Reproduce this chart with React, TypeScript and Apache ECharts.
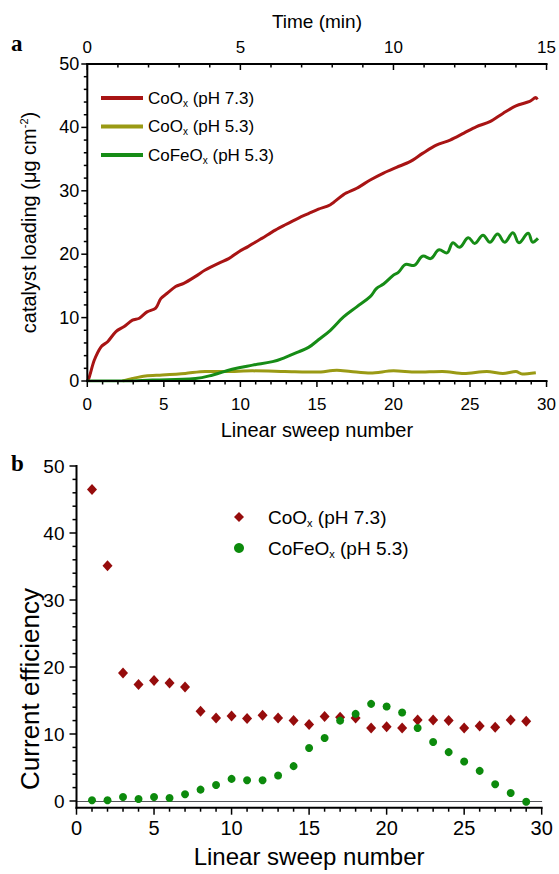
import React, { useEffect, useRef } from "react";
import * as echarts from "echarts";

// ---- Panel a: catalyst loading vs linear sweep number ----
const coPh73X = [0, 0.1, 0.46, 0.9, 1.33, 1.87, 2.41, 2.95, 3.4, 3.9, 4.47, 4.8, 5.2, 5.77, 6.3, 7.07, 7.7, 8.6, 9.24, 9.9, 10.5, 11.4, 12.28, 12.9, 13.8, 14.45, 15.1, 15.88, 16.74, 17.6, 18.48, 19.35, 20.2, 21.08, 21.9, 22.8, 23.7, 24.6, 25.4, 26.3, 27.15, 28.0, 28.9, 29.3, 29.4];
const coPh73Y = [0, 0.4, 3.3, 5.4, 6.2, 7.8, 8.6, 9.6, 9.9, 10.9, 11.5, 13.0, 13.8, 14.9, 15.4, 16.5, 17.5, 18.6, 19.3, 20.4, 21.2, 22.5, 23.8, 24.6, 25.7, 26.4, 27.1, 27.8, 29.4, 30.4, 31.7, 32.8, 33.7, 34.6, 35.9, 37.2, 38.0, 39.1, 40.1, 40.9, 42.2, 43.4, 44.1, 44.7, 44.4];

const coPh53X = [2.3, 2.95, 3.8, 4.9, 6.4, 7.7, 9.0, 10.8, 12.9, 15.0, 16.3, 17.2, 18.5, 20.0, 21.5, 23.2, 24.6, 26.1, 27.15, 28.0, 28.4, 29.3];
const coPh53Y = [0, 0.4, 0.8, 0.95, 1.2, 1.5, 1.5, 1.6, 1.5, 1.4, 1.7, 1.5, 1.25, 1.6, 1.4, 1.5, 1.2, 1.5, 1.2, 1.5, 1.1, 1.3];

const coFePh53X = [0, 2.3, 4.25, 7.07, 8.2, 9.46, 10.8, 12.1, 12.9, 13.8, 14.45, 15.1, 15.88, 16.74, 17.6, 18.48, 18.9, 19.35, 20.0, 20.3, 20.86, 21.3, 21.96, 22.4, 23.0, 23.47, 23.9, 24.3, 24.9, 25.3, 25.85, 26.3, 26.8, 27.26, 27.8, 28.2, 28.8, 29.1, 29.44];
const coFePh53Y = [0, 0, 0.15, 0.4, 0.95, 1.85, 2.5, 3.05, 3.7, 4.6, 5.3, 6.5, 8.0, 10.1, 11.7, 13.3, 14.6, 15.3, 16.7, 17.1, 18.4, 18.2, 19.7, 19.3, 20.7, 20.2, 21.8, 21.1, 22.6, 21.7, 23.0, 21.9, 23.2, 21.9, 23.4, 21.8, 23.3, 21.9, 22.5];

// ---- Panel b: current efficiency per sweep ----
const sweeps = [1, 2, 3, 4, 5, 6, 7, 8, 9, 10, 11, 12, 13, 14, 15, 16, 17, 18, 19, 20, 21, 22, 23, 24, 25, 26, 27, 28, 29];
const effCoPh73 = [46.5, 35.1, 19.1, 17.4, 18.0, 17.6, 17.0, 13.4, 12.4, 12.7, 12.3, 12.8, 12.4, 12.0, 11.4, 12.6, 12.5, 12.4, 10.9, 11.1, 10.9, 12.1, 12.1, 12.0, 10.9, 11.2, 11.0, 12.1, 11.9];
const effCoFePh53 = [0.1, 0.1, 0.6, 0.3, 0.6, 0.45, 1.0, 1.7, 2.4, 3.3, 3.1, 3.1, 3.8, 5.2, 7.9, 9.4, 12.0, 13.0, 14.5, 14.1, 13.2, 10.9, 8.8, 7.3, 5.9, 4.5, 2.5, 1.2, -0.1];

// ---- tick values (major every 5 sweeps / 5 min / 10 units) ----
const sweepTicks = [0, 1, 2, 3, 4, 5, 6, 7, 8, 9, 10, 11, 12, 13, 14, 15, 16, 17, 18, 19, 20, 21, 22, 23, 24, 25, 26, 27, 28, 29, 30];
const timeTicks = [0, 1, 2, 3, 4, 5, 6, 7, 8, 9, 10, 11, 12, 13, 14, 15];
const yTicks = [0, 2, 4, 6, 8, 10, 12, 14, 16, 18, 20, 22, 24, 26, 28, 30, 32, 34, 36, 38, 40, 42, 44, 46, 48, 50];
const yTickLabelsB = [0, 10, 20, 30, 40, 50];

// axis ranges
const SWEEP_MAX = 30;
const TIME_MAX = 15;
const Y_MAX = 50;
const Y_MIN_B = -1;

const NAME_A1 = "CoOx (pH 7.3)";
const NAME_A2 = "CoOx (pH 5.3)";
const NAME_A3 = "CoFeOx (pH 5.3)";
const NAME_B1 = "CoOx (pH 7.3) ";
const NAME_B2 = "CoFeOx (pH 5.3) ";

const RED = "#a81414";
const OLIVE = "#9a9a14";
const GREEN = "#168c16";
const DRED = "#960c0c";
const DGREEN = "#0c8a0c";

const FONT = "'Liberation Sans', Arial, Helvetica, sans-serif";

const zip = (xs: number[], ys: number[]) => xs.map((x, i) => [x, ys[i]]);

const fmtA = (name: string) => {
  const n = name.trim();
  if (n.startsWith("CoFeOx")) return "CoFeO{sub|x}" + n.slice(6);
  if (n.startsWith("CoOx")) return "CoO{sub|x}" + n.slice(4);
  return n;
};
const fmtB = (name: string) => "{gap|}" + fmtA(name);

const noSplit = () => ({ lineStyle: { color: "rgba(0,0,0,0)", width: 0 } });
const noTick = { show: false };

// custom series: tick marks, drawn through the axes' own scales
// dir: "down" | "left"
const tickSeries = (xi: number, yi: number, data: number[][], dir: string, majorLen: number, minorLen: number) => ({
  type: "custom", xAxisIndex: xi, yAxisIndex: yi, data, clip: false, silent: true, z: 10,
  encode: { x: 0, y: 1 },
  renderItem: (_p: any, api: any) => {
    const c = api.coord([api.value(0), api.value(1)]);
    const L = api.value(2) ? majorLen : minorLen;
    const shape = dir === "down"
      ? { x1: c[0], y1: c[1], x2: c[0], y2: c[1] + L }
      : { x1: c[0] - L, y1: c[1], x2: c[0], y2: c[1] };
    return { type: "line", shape, style: { stroke: "#000", lineWidth: 1.5 } };
  },
});

// custom series: black axis frame lines
const frameSeries = (xi: number, yi: number, data: number[][]) => ({
  type: "custom", xAxisIndex: xi, yAxisIndex: yi, data, clip: false, silent: true, z: 11,
  encode: { x: [0, 2], y: [1, 3] },
  renderItem: (_p: any, api: any) => {
    const a = api.coord([api.value(0), api.value(1)]);
    const b = api.coord([api.value(2), api.value(3)]);
    return { type: "line", shape: { x1: a[0], y1: a[1], x2: b[0], y2: b[1] }, style: { stroke: "#000", lineWidth: 2, lineCap: "square" } };
  },
});

export default function App() {
  const ref = useRef<HTMLDivElement>(null);
  useEffect(() => {
    if (!ref.current) return;
    const chart = echarts.init(ref.current, null, { renderer: "svg" });
    const option: any = {
      animation: false,
      grid: [
        { left: 87.3, top: 64, width: 461, height: 317 },
        { left: 76.5, top: 466, width: 465.2, height: 341.7 },
      ],
      xAxis: [
        {
          type: "value", gridIndex: 0, min: 0, max: SWEEP_MAX, interval: 5,
          axisLine: { show: true }, splitLine: noSplit(), axisTick: noTick, minorTick: noTick,
          axisLabel: { color: "#000", fontSize: 17, fontFamily: FONT, margin: 15 },
          name: "Linear sweep number", nameLocation: "middle", nameGap: 39,
          nameTextStyle: { color: "#000", fontSize: 20, fontFamily: FONT },
        },
        {
          type: "value", gridIndex: 0, min: 0, max: TIME_MAX, interval: 5, position: "top",
          axisLine: { show: true }, splitLine: noSplit(), axisTick: noTick, minorTick: noTick,
          axisLabel: { color: "#000", fontSize: 17, fontFamily: FONT, margin: 8 },
          name: "Time (min)", nameLocation: "middle", nameGap: 33,
          nameTextStyle: { color: "#000", fontSize: 19, fontFamily: FONT },
        },
        {
          type: "value", gridIndex: 1, min: 0, max: SWEEP_MAX, interval: 5,
          axisLine: { show: true }, splitLine: noSplit(), axisTick: noTick, minorTick: noTick,
          axisLabel: { color: "#000", fontSize: 20, fontFamily: FONT, margin: 10 },
          name: "Linear sweep number", nameLocation: "middle", nameGap: 37,
          nameTextStyle: { color: "#000", fontSize: 24, fontFamily: FONT },
        },
      ],
      yAxis: [
        {
          type: "value", gridIndex: 0, min: 0, max: Y_MAX, interval: 10,
          axisLine: { show: true }, splitLine: noSplit(), axisTick: noTick, minorTick: noTick,
          axisLabel: { color: "#000", fontSize: 18, fontFamily: FONT, margin: 8 },
          name: "catalyst loading (\u03bcg cm{sup|-2})", nameLocation: "middle", nameGap: 47,
          nameTextStyle: {
            color: "#000", fontSize: 20, fontFamily: FONT,
            rich: { sup: { fontSize: 11, fontFamily: FONT, color: "#000", verticalAlign: "top", lineHeight: 22 } },
          },
        },
        {
          type: "value", gridIndex: 1, min: Y_MIN_B, max: Y_MAX,
          axisLine: { show: true }, splitLine: noSplit(), axisTick: noTick, minorTick: noTick,
          axisLabel: { color: "#000", fontSize: 19, fontFamily: FONT, margin: 12, customValues: yTickLabelsB },
        },
      ],
      legend: [
        {
          orient: "vertical", left: 96, top: 83, icon: "rect", itemWidth: 42, itemHeight: 4, itemGap: 8.5,
          data: [NAME_A1, NAME_A2, NAME_A3],
          formatter: fmtA,
          textStyle: {
            color: "#000", fontSize: 17, fontFamily: FONT, lineHeight: 20,
            rich: { sub: { fontSize: 10, fontFamily: FONT, color: "#000", verticalAlign: "bottom", lineHeight: 10, padding: [10, 0, 0, 0] } },
          },
        },
        {
          orient: "vertical", left: 229, top: 501, itemWidth: 10, itemHeight: 10, itemGap: 9,
          data: [NAME_B1, NAME_B2],
          formatter: fmtB,
          textStyle: {
            color: "#000", fontSize: 19, fontFamily: FONT, lineHeight: 22,
            rich: {
              gap: { width: 19, height: 1 },
              sub: { fontSize: 11, fontFamily: FONT, color: "#000", verticalAlign: "bottom", lineHeight: 11, padding: [11, 0, 0, 0] },
            },
          },
        },
      ],
      series: [
        { name: NAME_A1, type: "line", xAxisIndex: 0, yAxisIndex: 0, data: zip(coPh73X, coPh73Y), showSymbol: false, smooth: 0.3, lineStyle: { color: RED, width: 3 }, itemStyle: { color: RED } },
        { name: NAME_A2, type: "line", xAxisIndex: 0, yAxisIndex: 0, data: zip(coPh53X, coPh53Y), showSymbol: false, smooth: 0.3, lineStyle: { color: OLIVE, width: 3 }, itemStyle: { color: OLIVE } },
        { name: NAME_A3, type: "line", xAxisIndex: 0, yAxisIndex: 0, data: zip(coFePh53X, coFePh53Y), showSymbol: false, smooth: 0.4, lineStyle: { color: GREEN, width: 3 }, itemStyle: { color: GREEN } },
        { name: NAME_B1, type: "scatter", xAxisIndex: 2, yAxisIndex: 1, data: zip(sweeps, effCoPh73), symbol: "diamond", symbolSize: [10, 11], itemStyle: { color: DRED, opacity: 1 }, clip: false },
        { name: NAME_B2, type: "scatter", xAxisIndex: 2, yAxisIndex: 1, data: zip(sweeps, effCoFePh53), symbol: "circle", symbolSize: 8, itemStyle: { color: DGREEN, opacity: 1 }, clip: false },

        // panel a ticks
        tickSeries(0, 0, sweepTicks.map((v) => [v, 0, v % 5 === 0 ? 1 : 0]), "down", 6, 3.5),
        tickSeries(1, 0, timeTicks.map((t) => [t, Y_MAX, t % 5 === 0 ? 1 : 0]), "down", 6, 3.5),
        tickSeries(0, 0, yTicks.map((v) => [0, v, v % 10 === 0 ? 1 : 0]), "left", 6, 3.5),
        // panel b ticks
        tickSeries(2, 1, sweepTicks.map((v) => [v, Y_MIN_B, v % 5 === 0 ? 1 : 0]), "down", 7, 4),
        tickSeries(2, 1, yTicks.map((v) => [0, v, v % 10 === 0 ? 1 : 0]), "left", 7, 4),
        // frames
        frameSeries(0, 0, [[0, 0, SWEEP_MAX, 0], [0, Y_MAX, SWEEP_MAX, Y_MAX], [0, 0, 0, Y_MAX]]),
        frameSeries(2, 1, [[0, Y_MIN_B, SWEEP_MAX, Y_MIN_B], [0, Y_MIN_B, 0, Y_MAX]]),
      ],
      graphic: [
        { type: "text", left: 11, top: 32, style: { text: "a", font: "bold 23px 'Liberation Serif', 'DejaVu Serif', serif", fill: "#000" } },
        { type: "text", left: 11, top: 452, style: { text: "b", font: "bold 23px 'Liberation Serif', 'DejaVu Serif', serif", fill: "#000" } },
        {
          type: "text", x: 30, y: 689, rotation: Math.PI / 2,
          style: { text: "Current efficiency", font: `26px ${FONT}`, fill: "#000", align: "center", verticalAlign: "middle" },
        },
      ],
    };
    chart.setOption(option);
    return () => chart.dispose();
  }, []);
  return <div ref={ref} style={{ position: "fixed", left: 0, top: 0, width: 559, height: 874, background: "#fff" }} />;
}
